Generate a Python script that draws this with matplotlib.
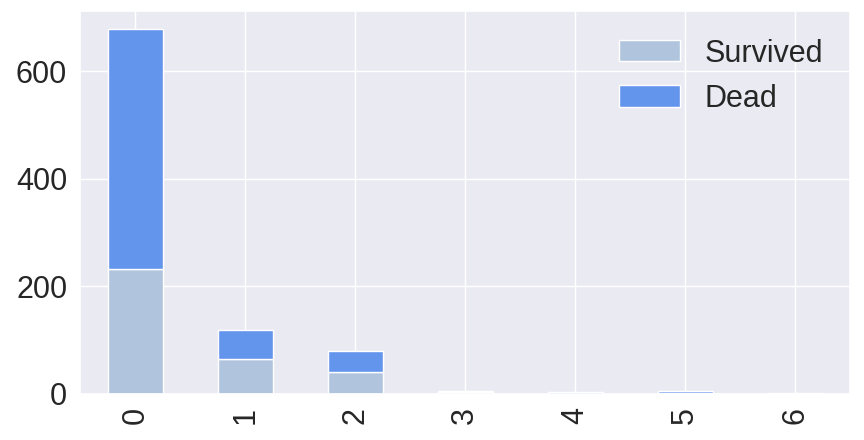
import numpy as np
import pandas as pd
import matplotlib
matplotlib.use("Agg")
import matplotlib.pyplot as plt
import seaborn as sns

sns.set_theme(style="darkgrid", font_scale=2)
plt.rcParams['font.family'] = ['Liberation Sans', 'DejaVu Sans']

parch = [0, 1, 2, 3, 4, 5, 6]
survived = [233, 65, 40, 3, 0, 1, 0]
dead = [445, 53, 40, 2, 4, 4, 1]

df = pd.DataFrame({'Survived': survived, 'Dead': dead}, index=parch)

fig = plt.figure(figsize=(8.64, 4.4), dpi=100)
ax = fig.add_subplot(111)
df.plot(kind='bar', stacked=True, ax=ax, color=['lightsteelblue', 'cornflowerblue'])
ax.legend(frameon=False)
fig.subplots_adjust(left=0.093, right=0.984, top=0.975, bottom=0.105)
fig.savefig('out.png', dpi=100)
